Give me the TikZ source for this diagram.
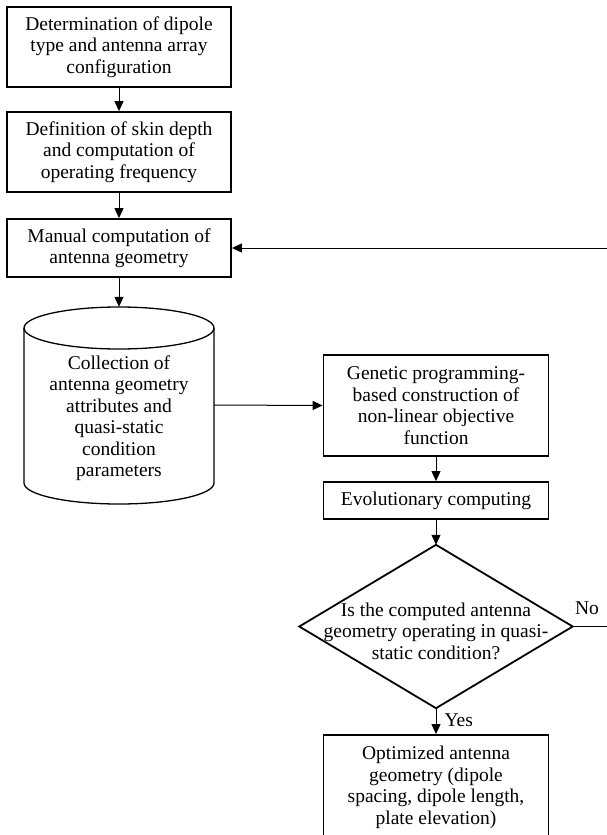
\documentclass[tikz,border=0pt]{standalone}
\usepackage{fontspec}
\setmainfont{Liberation Serif}
\usetikzlibrary{arrows.meta}
\begin{document}
\begin{tikzpicture}[x=1pt,y=-1pt,
  every node/.style={font=\fontsize{19.5}{21.5}\selectfont, align=center, inner sep=0pt},
  procbox/.style={draw, line width=1.8pt, minimum width=224pt},
  conn/.style={line width=1pt, -{Triangle[length=10pt,width=9pt]}},
  plainline/.style={line width=1pt}]
\useasboundingbox (0,0) rectangle (607,835);
\clip (0,0) rectangle (607,835);
% left column
\node[procbox, minimum height=80pt] (b1) at (119,47) {Determination of dipole\\type and antenna array\\configuration};
\node[procbox, minimum height=80pt] (b2) at (119,152) {Definition of skin depth\\and computation of\\operating frequency};
\node[procbox, minimum height=58pt] (b3) at (119,248) {Manual computation of\\antenna geometry};
% cylinder
\node[minimum width=190pt, minimum height=196pt] (cyl) at (119,405) {};
\draw[line width=1.3pt] (24,328) -- (24,483) arc[start angle=180, end angle=0, x radius=95, y radius=21] -- (214,328);
\draw[line width=1.3pt] (119,328) ellipse[x radius=95, y radius=21];
\node (cyltext) at (119,418) {Collection of\\antenna geometry\\attributes and\\quasi-static\\condition\\parameters};
% right column
\node[procbox, minimum width=225pt, minimum height=101pt] (gen) at (436,405.5) {Genetic programming-\\based construction of\\non-linear objective\\function};
\node[procbox, minimum width=225pt, minimum height=37pt] (evo) at (436,500.5) {Evolutionary computing};
\node[minimum width=273pt, minimum height=163pt] (dia) at (436,626.5) {};
\draw[line width=1.8pt] (dia.north) -- (dia.east) -- (dia.south) -- (dia.west) -- cycle;
\node at (436,631) {Is the computed antenna\\geometry operating in quasi-\\static condition?};
\node[procbox, minimum width=225pt, minimum height=105pt] (fin) at (436,787.5) {Optimized antenna\\geometry (dipole\\spacing, dipole length,\\plate elevation)};
% connectors
\draw[conn] (b1) -- (b2);
\draw[conn] (b2) -- (b3);
\draw[conn] (b3) -- (cyl.north);
\draw[conn] (cyl.east) -- (gen.west);
\draw[conn] (gen) -- (evo);
\draw[conn] (evo) -- (dia.north);
\draw[conn] (dia.south) -- node[right=8pt, pos=0.45] (yes) {Yes} (fin);
\draw[conn] (dia.east) -- ++(60,0) |- (b3.east);
\node (no) at (587,608) {No};
\end{tikzpicture}
\end{document}
